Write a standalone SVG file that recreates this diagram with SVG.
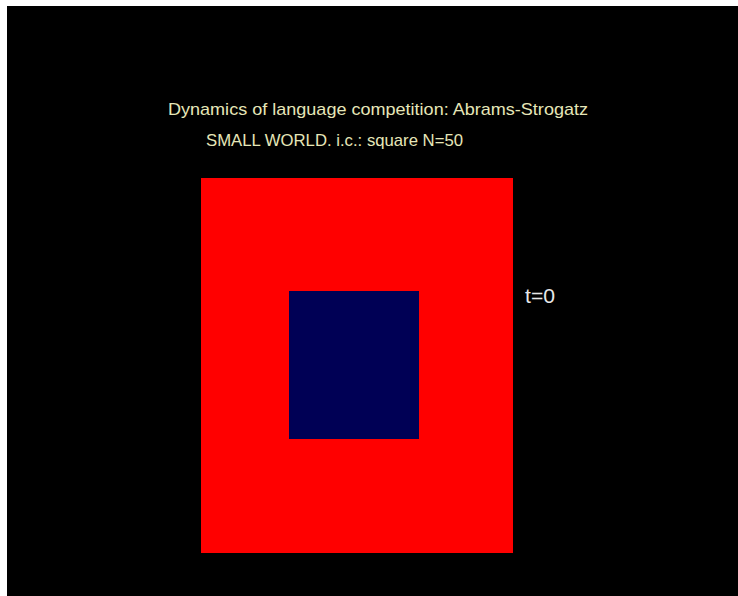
<svg xmlns="http://www.w3.org/2000/svg" width="738" height="596" viewBox="0 0 738 596">
<style>
.t{font-family:"Liberation Sans",Arial,sans-serif;fill:#e6e6b8;}
</style>
<rect x="0" y="0" width="738" height="596" fill="#ffffff"/>
<rect x="7" y="6" width="731" height="590" fill="#000000"/>
<g id="title">
<text class="t" x="168" y="115" font-size="17" textLength="420" lengthAdjust="spacingAndGlyphs">Dynamics of language competition: Abrams-Strogatz</text>
<text class="t" x="206" y="146" font-size="17" textLength="257" lengthAdjust="spacingAndGlyphs">SMALL WORLD. i.c.: square N=50</text>
</g>
<g id="outer-square"><rect x="201" y="178" width="312" height="375" fill="#ff0000"/></g>
<g id="inner-square"><rect x="289" y="291" width="130" height="148" fill="#000055"/></g>
<g id="time-label"><text x="525" y="303" font-size="20" textLength="30" lengthAdjust="spacingAndGlyphs" style="font-family:'Liberation Sans',Arial,sans-serif;fill:#e8e8e8">t=0</text></g>
<g id="connectors"/>
</svg>
